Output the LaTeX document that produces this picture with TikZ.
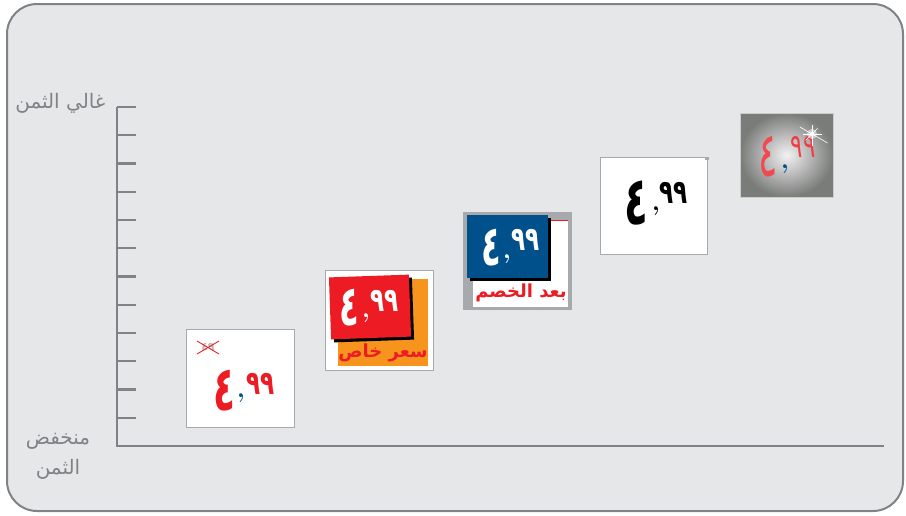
\documentclass[tikz,border=0pt]{standalone}
\usepackage{fontspec}
\usepackage{graphicx}
\newfontfamily\arabicfont[Script=Arabic]{DejaVu Sans}
\TeXXeTstate=1
\usetikzlibrary{calc}
\definecolor{panelgray}{RGB}{230,231,232}
\definecolor{rulegray}{RGB}{128,130,133}
\definecolor{tagred}{RGB}{237,28,36}
\definecolor{tagorange}{RGB}{247,148,29}
\definecolor{tagblue}{RGB}{0,80,140}
\definecolor{taggray}{RGB}{167,169,172}
\definecolor{glowedge}{RGB}{122,124,122}
\newcommand{\tallfour}{\scalebox{0.72}[1.25]{٤}}
\newcommand{\tallnines}{\scalebox{1.05}[1.5]{٩٩}}
\tikzset{
 axisline/.style={draw=rulegray,line width=2.2pt},
 tagbox/.style={draw=taggray,line width=1pt,fill=white},
 bigfour/.style={font=\arabicfont\bfseries\fontsize{50}{50}\selectfont,inner sep=0},
 ninenine/.style={font=\arabicfont\bfseries\fontsize{22}{22}\selectfont,inner sep=0},
 pricecomma/.style={font=\bfseries\fontsize{26}{26}\selectfont,inner sep=0},
 axislabel/.style={font=\arabicfont\fontsize{20}{30}\selectfont,text=rulegray,align=center},
 taglabel/.style={font=\arabicfont\bfseries\fontsize{18}{18}\selectfont,text=tagred,inner sep=0},
 card/.style={minimum width=80pt,minimum height=62pt,inner sep=0}
}

\begin{document}
\begin{tikzpicture}[x=1pt,y=-1pt]
\path[use as bounding box] (0,0) rectangle (906,515);
\draw[rulegray,line width=2pt,fill=panelgray,rounded corners=30pt] (7,4) rectangle (903,511);
% axes
\draw[axisline] (117,107) -- (117,446) -- (884,446);
\foreach \k in {0,...,11}
 \draw[axisline] (117,{107+28.25*\k}) -- ++(19,0);
\node[axislabel,anchor=east] (high) at (109,103) {\beginR غالي الثمن\endR};
\node[axislabel] (low) at (58,456) {\beginR منخفض\endR\\\beginR الثمن\endR};
% tag 1
\draw[tagbox] (186,329) rectangle (294,427);
\node[font=\arabicfont\bfseries\fontsize{11}{11}\selectfont,text=gray!55,inner sep=0] (old1) at (208,347) {٤٩};
\draw[tagred,line width=0.9pt] (197,341) -- (219,354) (197,354) -- (219,341);
\node[bigfour,text=tagred] (four1) at (224,391) {\tallfour};
\node[pricecomma,text=tagblue] (comma1) at (241,398) {,};
\node[ninenine,text=tagred] (nines1) at (261,384) {\tallnines};
% tag 2
\draw[tagbox] (325,270) rectangle (433,370);
\fill[tagorange] (338,279) rectangle (428,366);
\node[card,fill=black,rotate=2] (shadow2) at (373,310) {};
\node[card,fill=tagred,rotate=2] (card2) at (370,307) {};
\node[bigfour,text=white,font=\arabicfont\bfseries\fontsize{45}{45}\selectfont] (four2) at (349,308) {\tallfour};
\node[pricecomma,text=white] (comma2) at (366,318) {,};
\node[ninenine,text=white] (nines2) at (385,301) {\tallnines};
\node[taglabel] (label2) at (383,353) {\beginR سعر خاص\endR};
% tag 3
\draw[draw=taggray,fill=taggray] (463,212) rectangle (571,309);
\fill[white] (473,220) rectangle (568,307);
\draw[tagred,line width=1pt] (473,220.5) -- (568,220.5);
\fill[black] (470,218) rectangle (551,281);
\fill[tagblue] (467,215) rectangle (548,278);
\node[bigfour,text=white,font=\arabicfont\bfseries\fontsize{45}{45}\selectfont] (four3) at (491,248) {\tallfour};
\node[pricecomma,text=white] (comma3) at (507,259) {,};
\node[ninenine,text=white] (nines3) at (526,240) {\tallnines};
\node[taglabel] (label3) at (521,293) {\beginR بعد الخصم\endR};
% tag 4
\draw[tagbox] (600,157) rectangle (707,254);
\fill[taggray] (705,157) rectangle (709,160);
\node[bigfour,text=black,font=\arabicfont\bfseries\fontsize{54}{54}\selectfont] (four4) at (636,203) {\tallfour};
\node[pricecomma,text=black] (comma4) at (656,211) {,};
\node[ninenine,text=black] (nines4) at (674,193) {\tallnines};
% tag 5
\shade[inner color=gray!10,outer color=glowedge] (740,113) rectangle (833,197);
\draw[gray!40,line width=0.8pt] (740,113) rectangle (833,197);
\node[font=\arabicfont\fontsize{50}{50}\selectfont,inner sep=0,text=tagred!80!white] (four5) at (768,157) {\tallfour};
\node[pricecomma,text=tagblue] (comma5) at (785,169) {,};
\node[font=\arabicfont\fontsize{22}{22}\selectfont,inner sep=0,text=tagred!85!white] (nines5) at (803,147) {\tallnines};
\coordinate (spark) at (812,134);
\fill[white,opacity=0.5] (spark) circle (5);
\fill[white] (spark) circle (2.2);
\foreach \a/\r in {0/10,90/12,30/18,210/14,135/9,180/9,270/9,315/8}
 \draw[white,line width=0.6pt] (spark) -- ++(\a:\r);
\end{tikzpicture}
\end{document}
